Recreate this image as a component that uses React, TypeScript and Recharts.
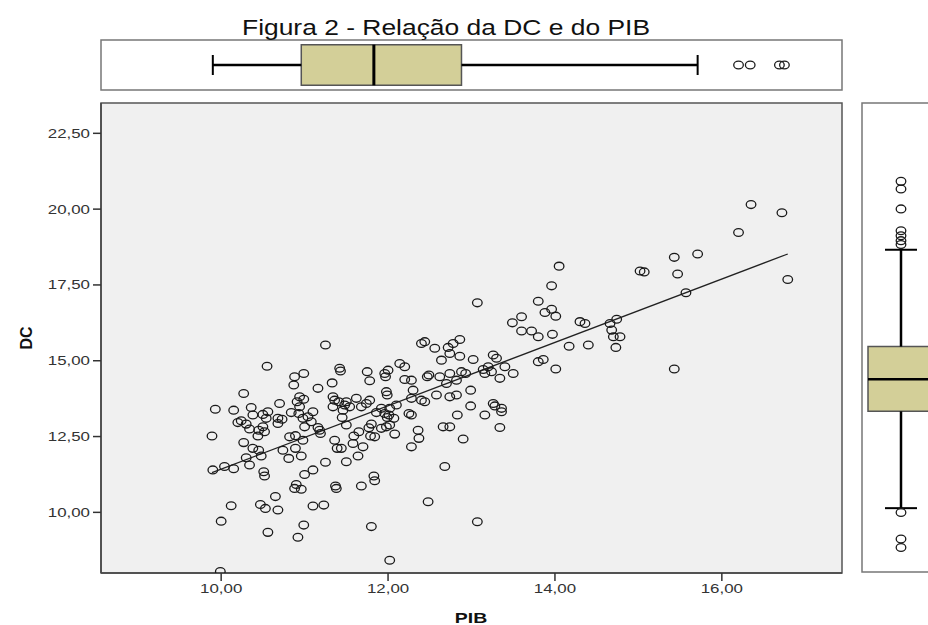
import React from 'react';
import { ScatterChart, Scatter, XAxis, YAxis, ReferenceLine, ReferenceArea } from 'recharts';

// ---- Data ----
const pib: number[] = [
  9.93, 9.89, 9.90, 10.04, 10.15, 10.00, 9.99, 10.12, 10.15, 10.27,
  10.20, 10.24, 10.30, 10.36, 10.34, 10.27, 10.38, 10.45, 10.44, 10.45,
  10.50, 10.50, 10.56, 10.55, 10.48, 10.34, 10.30, 10.51, 10.52, 10.47,
  10.53, 10.56, 10.70, 10.68, 10.73, 10.65, 10.68, 10.74, 10.81, 10.82,
  10.89, 10.89, 10.96, 10.98, 10.88, 10.87, 10.99, 10.94, 10.99, 10.91,
  10.84, 10.93, 10.98, 10.90, 10.88, 10.96, 10.92, 10.99, 11.04, 11.08,
  11.10, 11.16, 11.00, 11.16, 11.18, 11.19, 11.10, 11.00, 11.10, 11.23,
  11.25, 11.25, 11.33, 11.34, 11.36, 11.34, 11.41, 11.50, 11.48, 11.46,
  11.42, 11.43, 11.45, 11.50, 11.36, 11.39, 11.44, 11.50, 11.37, 11.38,
  11.59, 11.58, 11.65, 11.70, 11.64, 11.62, 11.68, 11.75, 11.78, 11.78,
  11.74, 11.80, 11.77, 11.79, 11.84, 11.86, 11.83, 11.84, 11.80, 12.02,
  11.96, 12.00, 11.97, 11.98, 11.99, 12.02, 12.01, 11.99, 11.98, 12.02,
  12.07, 12.10, 12.08, 12.14, 12.20, 12.20, 12.28, 12.30, 12.28, 12.25,
  12.28, 12.36, 12.37, 12.28, 12.40, 12.44, 12.49, 12.47, 12.40, 12.44,
  12.56, 12.64, 12.66, 12.68, 12.48, 12.72, 12.78, 12.86, 12.74, 12.86,
  13.02, 12.58, 12.74, 12.82, 12.88, 12.93, 12.74, 12.70, 12.82, 12.99,
  12.99, 12.83, 12.90, 13.07, 12.62, 12.74,
  10.38, 10.54, 10.68, 10.94, 11.54, 11.68, 11.92, 11.96, 10.52, 11.92,
  16.35, 16.72, 16.20, 16.79, 15.43, 15.71, 15.02, 15.07, 15.47, 15.57,
  14.05, 13.96, 13.80, 13.88, 13.96, 14.01, 13.60, 13.49, 13.60, 13.72,
  13.80, 13.97, 14.30, 14.36, 14.66, 14.74, 14.68, 14.70, 14.78, 13.07,
  14.73, 14.17, 14.40, 13.26, 13.30, 13.20, 13.16, 13.24, 13.34, 13.40,
  13.50, 13.80, 13.86, 14.01, 15.43, 13.26, 13.28, 13.16, 13.36, 13.36,
  13.34, 13.14,
];

const dc: number[] = [
  13.40, 12.52, 11.40, 11.51, 11.44, 9.71, 8.05, 10.22, 13.37, 13.92,
  12.96, 13.02, 12.91, 13.46, 12.75, 12.30, 12.11, 12.05, 12.52, 12.71,
  12.82, 13.23, 13.32, 14.82, 11.86, 11.56, 11.80, 11.34, 11.20, 10.26,
  10.13, 9.34, 13.59, 13.10, 13.07, 10.52, 10.08, 12.05, 11.78, 12.49,
  12.53, 12.11, 11.86, 12.38, 14.47, 14.20, 14.58, 13.81, 13.73, 13.65,
  13.29, 13.26, 13.10, 10.92, 10.79, 10.76, 9.18, 9.58, 13.15, 12.99,
  13.32, 14.09, 12.82, 12.80, 12.71, 12.60, 11.40, 11.25, 10.21, 10.24,
  15.52, 11.65, 14.27, 13.81, 13.70, 13.48, 13.65, 13.65, 13.54, 13.37,
  14.75, 14.66, 13.13, 12.88, 12.38, 12.11, 12.11, 11.67, 10.87, 10.79,
  12.52, 12.27, 12.66, 12.16, 11.86, 13.76, 10.87, 14.64, 14.34, 13.70,
  13.59, 12.91, 12.79, 12.52, 12.49, 13.29, 11.20, 11.04, 9.53, 8.42,
  14.58, 14.69, 14.47, 13.98, 13.87, 13.43, 13.21, 13.13, 12.82, 12.88,
  13.10, 13.54, 12.58, 14.91, 14.80, 14.38, 14.36, 14.03, 13.76, 13.26,
  13.21, 12.71, 12.44, 12.16, 13.70, 13.65, 14.53, 14.47, 15.57, 15.63,
  15.41, 15.02, 12.82, 11.51, 10.35, 15.44, 15.57, 15.70, 15.24, 15.15,
  15.04, 13.87, 13.81, 13.87, 14.64, 14.58, 14.58, 14.25, 14.36, 14.03,
  13.51, 13.21, 12.42, 9.69, 14.47, 12.82,
  13.21, 13.10, 12.93, 13.48, 13.48, 13.48, 13.43, 13.26, 12.66, 12.77,
  20.15, 19.88, 19.23, 17.68, 18.41, 18.52, 17.96, 17.93, 17.86, 17.24,
  18.12, 17.47, 16.96, 16.59, 16.70, 16.47, 16.45, 16.25, 15.98, 15.98,
  15.79, 15.87, 16.29, 16.23, 16.23, 16.37, 16.01, 15.79, 15.79, 16.91,
  15.44, 15.48, 15.52, 15.19, 15.08, 14.80, 14.58, 14.64, 14.42, 14.80,
  14.58, 14.97, 15.04, 14.73, 14.73, 13.59, 13.51, 13.21, 13.32, 13.43,
  12.80, 14.71,
];

// Fit line endpoints (PIB, DC)
const fitPib = [9.89, 16.79];
const fitDc = [11.31, 18.52];

// Marginal boxplots: [min whisker, Q1, median, Q3, max whisker]
const pibBox = [9.90, 10.96, 11.83, 12.88, 15.71];
const pibOutliers = [16.20, 16.34, 16.69, 16.75];
const dcBox = [10.11, 13.31, 14.37, 15.45, 18.65];
const dcOutliers = [20.91, 20.66, 20.0, 19.28, 19.11, 18.95, 18.82, 9.97, 9.09, 8.81];

// Axis ticks
const pibTicks = [10, 12, 14, 16];
const dcTicks = [10, 12.5, 15, 17.5, 20, 22.5];

const titleText = 'Figura 2 - Relação da DC e do PIB';
const xLabel = 'PIB';
const yLabel = 'DC';

// ---- Derived tables ----
const points = pib.map((x, i) => ({ x, y: dc[i] }));
const pibOut = pibOutliers.map((x) => ({ x, y: 0.5 }));
const dcOut = dcOutliers.map((y) => ({ x: 0.5, y }));

const X_DOMAIN: [number, number] = [8.56, 17.44];
const Y_DOMAIN: [number, number] = [8, 23.5];

const FONT = '"Liberation Sans", Arial, sans-serif';
const BOX_FILL = '#d3cf98';
const fmt = (v: number) => v.toFixed(2).replace('.', ',');

const Ring = (props: any) => {
  const { cx, cy } = props;
  if (cx == null || cy == null) return null;
  return <ellipse cx={cx} cy={cy} rx={4.8} ry={3.9} fill="none" stroke="#1a1a1a" strokeWidth={1.3} />;
};

const YTick = (props: any) => {
  const { x, y, payload } = props;
  return (
    <text
      x={x}
      y={y}
      dy={4.5}
      textAnchor="end"
      fontSize={13}
      fontFamily={FONT}
      fill="#333"
      transform={`translate(${x},0) scale(1.3,1) translate(${-x},0)`}
    >
      {fmt(payload.value)}
    </text>
  );
};

const XTick = (props: any) => {
  const { x, y, payload } = props;
  return (
    <text
      x={x}
      y={y}
      dy={9.5}
      textAnchor="middle"
      fontSize={13}
      fontFamily={FONT}
      fill="#333"
      transform={`translate(${x},0) scale(1.3,1) translate(${-x},0)`}
    >
      {fmt(payload.value)}
    </text>
  );
};

export default function App() {
  return (
    <div
      style={{
        position: 'fixed',
        left: 0,
        top: 0,
        width: 928,
        height: 625,
        overflow: 'hidden',
        background: '#ffffff',
      }}
    >
      {/* Main scatter */}
      <div style={{ position: 'absolute', left: 0, top: 0 }}>
        <ScatterChart width={928} height={625} margin={{ top: 103, right: 86, bottom: 22, left: 41 }}>
          <XAxis
            type="number"
            dataKey="x"
            domain={X_DOMAIN}
            allowDataOverflow
            ticks={pibTicks}
            height={30}
            tickSize={8}
            tickMargin={3}
            tick={<XTick />}
            axisLine={{ stroke: '#444', strokeWidth: 1.5 }}
            tickLine={{ stroke: '#333', strokeWidth: 1.5 }}
          />
          <YAxis
            type="number"
            dataKey="y"
            domain={Y_DOMAIN}
            allowDataOverflow
            ticks={dcTicks}
            width={60}
            tickSize={8}
            tickMargin={3}
            tick={<YTick />}
            axisLine={{ stroke: '#444', strokeWidth: 1.5 }}
            tickLine={{ stroke: '#333', strokeWidth: 1.5 }}
          />
          <ReferenceArea
            x1={X_DOMAIN[0]}
            x2={X_DOMAIN[1]}
            y1={Y_DOMAIN[0]}
            y2={Y_DOMAIN[1]}
            fill="#f0f0f0"
            fillOpacity={1}
            stroke="#555"
            strokeWidth={1.5}
          />
          <Scatter data={points} shape={<Ring />} isAnimationActive={false} />
          <ReferenceLine
            segment={[
              { x: fitPib[0], y: fitDc[0] },
              { x: fitPib[1], y: fitDc[1] },
            ]}
            stroke="#222"
            strokeWidth={1.3}
          />
        </ScatterChart>
      </div>

      {/* Top marginal boxplot (PIB) */}
      <div style={{ position: 'absolute', left: 0, top: 0 }}>
        <ScatterChart width={928} height={100} margin={{ top: 40, right: 86, bottom: 10, left: 101 }}>
          <XAxis type="number" dataKey="x" domain={X_DOMAIN} allowDataOverflow hide />
          <YAxis type="number" dataKey="y" domain={[0, 1]} allowDataOverflow hide />
          <ReferenceArea x1={X_DOMAIN[0]} x2={X_DOMAIN[1]} y1={0} y2={1} fill="#fff" fillOpacity={1} stroke="#777" strokeWidth={1.5} />
          <ReferenceLine segment={[{ x: pibBox[0], y: 0.5 }, { x: pibBox[1], y: 0.5 }]} stroke="#000" strokeWidth={2.5} />
          <ReferenceLine segment={[{ x: pibBox[3], y: 0.5 }, { x: pibBox[4], y: 0.5 }]} stroke="#000" strokeWidth={2.5} />
          <ReferenceLine segment={[{ x: pibBox[0], y: 0.3 }, { x: pibBox[0], y: 0.7 }]} stroke="#000" strokeWidth={2} />
          <ReferenceLine segment={[{ x: pibBox[4], y: 0.3 }, { x: pibBox[4], y: 0.7 }]} stroke="#000" strokeWidth={2} />
          <ReferenceArea x1={pibBox[1]} x2={pibBox[3]} y1={0.094} y2={0.906} fill={BOX_FILL} fillOpacity={1} stroke="#555" strokeWidth={1.5} />
          <ReferenceLine segment={[{ x: pibBox[2], y: 0.094 }, { x: pibBox[2], y: 0.906 }]} stroke="#000" strokeWidth={3} />
          <Scatter data={pibOut} shape={<Ring />} isAnimationActive={false} />
        </ScatterChart>
      </div>

      {/* Right marginal boxplot (DC) */}
      <div style={{ position: 'absolute', left: 0, top: 0 }}>
        <ScatterChart width={940} height={625} margin={{ top: 103, right: 0, bottom: 53, left: 862 }}>
          <XAxis type="number" dataKey="x" domain={[0, 1]} allowDataOverflow hide />
          <YAxis type="number" dataKey="y" domain={Y_DOMAIN} allowDataOverflow hide />
          <ReferenceArea x1={0} x2={1} y1={Y_DOMAIN[0]} y2={Y_DOMAIN[1]} fill="#fff" fillOpacity={1} stroke="#777" strokeWidth={1.5} />
          <ReferenceLine segment={[{ x: 0.5, y: dcBox[0] }, { x: 0.5, y: dcBox[1] }]} stroke="#000" strokeWidth={2.5} />
          <ReferenceLine segment={[{ x: 0.5, y: dcBox[3] }, { x: 0.5, y: dcBox[4] }]} stroke="#000" strokeWidth={2.5} />
          <ReferenceLine segment={[{ x: 0.295, y: dcBox[0] }, { x: 0.705, y: dcBox[0] }]} stroke="#000" strokeWidth={2} />
          <ReferenceLine segment={[{ x: 0.295, y: dcBox[4] }, { x: 0.705, y: dcBox[4] }]} stroke="#000" strokeWidth={2} />
          <ReferenceArea x1={0.077} x2={0.923} y1={dcBox[1]} y2={dcBox[3]} fill={BOX_FILL} fillOpacity={1} stroke="#555" strokeWidth={1.5} />
          <ReferenceLine segment={[{ x: 0.077, y: dcBox[2] }, { x: 0.923, y: dcBox[2] }]} stroke="#000" strokeWidth={2.5} />
          <Scatter data={dcOut} shape={<Ring />} isAnimationActive={false} />
        </ScatterChart>
      </div>

      {/* Title and axis titles */}
      <svg width={928} height={625} style={{ position: 'absolute', left: 0, top: 0, pointerEvents: 'none' }}>
        <text
          x={446}
          y={35}
          textAnchor="middle"
          fontSize={22}
          fontFamily={FONT}
          fill="#111"
          textLength={408}
          lengthAdjust="spacingAndGlyphs"
        >
          {titleText}
        </text>
        <text x={471} y={623} textAnchor="middle" fontSize={15} fontWeight="bold" fontFamily={FONT} fill="#111"
          transform="translate(471,0) scale(1.3,1) translate(-471,0)">
          {xLabel}
        </text>
        <text x={0} y={0} textAnchor="middle" fontSize={16} fontWeight="bold" fontFamily={FONT} fill="#111"
          transform="translate(32,338) rotate(-90)">
          {yLabel}
        </text>
      </svg>
    </div>
  );
}
